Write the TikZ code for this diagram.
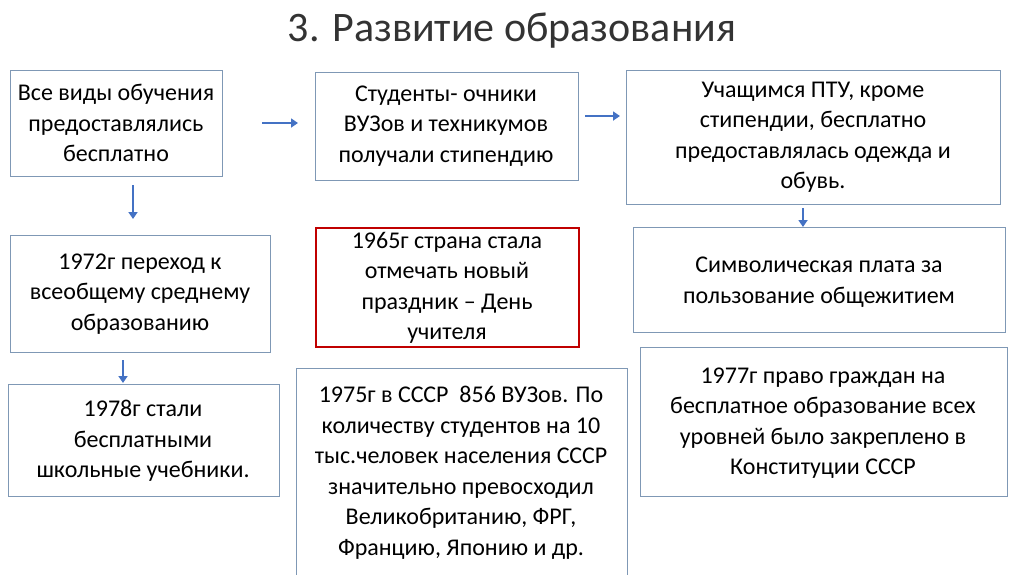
\documentclass[tikz,border=0pt]{standalone}
\usepackage{fontspec}
\setmainfont{Carlito}
\usetikzlibrary{arrows.meta}
\definecolor{bord}{HTML}{7F98B5}
\definecolor{arr}{HTML}{4472C4}
\definecolor{red1}{HTML}{C00000}
\begin{document}
\begin{tikzpicture}[x=1pt,y=-1pt,
 box/.style={draw=bord,line width=1pt,align=center,font=\fontsize{24}{30.5}\selectfont,inner sep=0pt},
 ar/.style={draw=arr,line width=2.5pt,-{Triangle[length=7pt,width=9pt]}}]
\useasboundingbox (0,0) rectangle (1024,574);
\node[font=\fontsize{42}{46}\selectfont,text=black!80] (t) at (512,31) {3. Развитие образования};
\draw[bord,line width=1pt] (10,70) rectangle (222,176);
\node[box,draw=none] (a) at (116,123) {Все виды обучения\\предоставлялись\\бесплатно};
\draw[bord,line width=1pt] (315,72) rectangle (578,180);
\node[box,draw=none] (b) at (446,126) {Студенты- очники\\ВУЗов и техникумов\\получали стипендию};
\draw[bord,line width=1pt] (626,70) rectangle (1000,204);
\node[box,draw=none] (c) at (813,137) {Учащимся ПТУ, кроме\\стипендии, бесплатно\\предоставлялась одежда и\\обувь.};
\draw[bord,line width=1pt] (10,235) rectangle (270,352);
\node[box,draw=none] (d) at (140,294) {1972г переход к\\всеобщему среднему\\образованию};
\draw[red1,line width=1.5pt] (316,228) rectangle (579,347);
\node[box,draw=none] (e) at (447,288) {1965г страна стала\\отмечать новый\\праздник – День\\учителя};
\draw[bord,line width=1pt] (633,227) rectangle (1005,332);
\node[box,draw=none] (f) at (819,282) {Символическая плата за\\пользование общежитием};
\draw[bord,line width=1pt] (8,384) rectangle (279,496);
\node[box,draw=none] (g) at (143,441) {1978г стали\\бесплатными\\школьные учебники.};
\draw[bord,line width=1pt] (296,368) -- (296,580) (627,580) -- (627,368) -- (296,368);
\node[box,draw=none] (h) at (461,473) {1975г в СССР~ 856 ВУЗов. По\\количеству студентов на 10\\тыс.человек населения СССР\\значительно превосходил\\Великобританию, ФРГ,\\Францию, Японию и др.};
\draw[bord,line width=1pt] (640,347) rectangle (1007,496);
\node[box,draw=none] (i) at (823,423) {1977г право граждан на\\бесплатное образование всех\\уровней было закреплено в\\Конституции СССР};
\coordinate (a1) at (262,123); \coordinate (a2) at (298,123);
\coordinate (b1) at (585,116); \coordinate (b2) at (620,116);
\coordinate (c1) at (133,185); \coordinate (c2) at (133,219);
\coordinate (d1) at (123,360); \coordinate (d2) at (123,383);
\coordinate (e1) at (803,208); \coordinate (e2) at (803,227);
\draw[ar] (a1) -- (a2);
\draw[ar] (b1) -- (b2);
\draw[ar] (c1) -- (c2);
\draw[ar] (d1) -- (d2);
\draw[ar] (e1) -- (e2);
\end{tikzpicture}
\end{document}
